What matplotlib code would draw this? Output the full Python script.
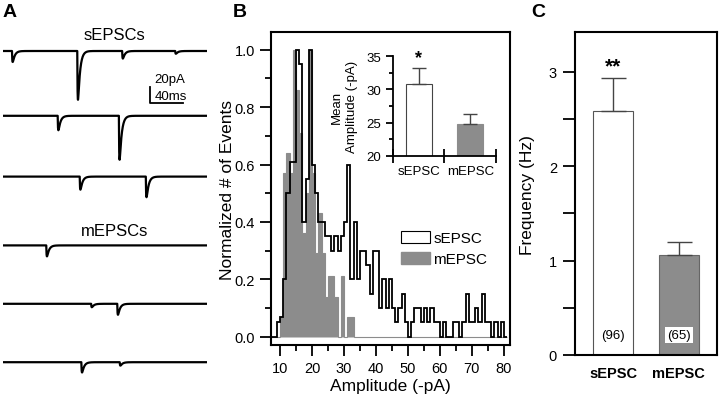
import numpy as np
import matplotlib.pyplot as plt
from matplotlib.patches import Patch

plt.rcParams['font.family'] = ['Liberation Sans', 'DejaVu Sans']

# -------------------------------
# Panel A: example traces (event times in ms, amplitudes in pA)
# -------------------------------
trace_labels = ["sEPSCs", "mEPSCs"]
trace_offsets = [-40, -121, -197, -283, -356, -429]   # baseline of each sweep (pA)
event_times = [
    [11, 91, 146, 211],
    [67, 142],
    [94, 175],
    [53],
    [108, 140],
    [96, 143],
]
event_amps = [
    [16, 71, 11, 4],
    [21, 64],
    [19, 30],
    [16],
    [5, 16],
    [15, 5],
]

# -------------------------------
# Panel B: amplitude histograms (1 pA bins, normalized)
# -------------------------------
bin_edges = np.arange(7, 82, 1)
sepsc_hist = [0, 0, 0.05, 0.07, 0.20, 0.50, 0.61, 0.61, 1.00, 0.95,
              0.40, 0.55, 1.00, 0.60, 0.50, 0.40, 0.40, 0.35, 0.35, 0.30,
              0.35, 0.30, 0.35, 0.40, 0.60, 0.20, 0.40, 0.20, 0.30, 0.30,
              0.25, 0.15, 0.30, 0.30, 0.10, 0.20, 0.10, 0.20, 0.10, 0.05,
              0.10, 0.15, 0.05, 0.00, 0.05, 0.10, 0.10, 0.05, 0.10, 0.05,
              0.10, 0.05, 0.05, 0.00, 0.05, 0.00, 0.00, 0.05, 0.05, 0.00,
              0.05, 0.15, 0.05, 0.05, 0.10, 0.05, 0.15, 0.05, 0.05, 0.00,
              0.05, 0.00, 0.05, 0.00]
mepsc_hist = [0, 0, 0, 0.07, 0.57, 0.64, 0.57, 1.00, 0.86, 0.71,
              0.36, 0.50, 1.00, 0.57, 0.29, 0.43, 0.29, 0.14, 0.21, 0.21,
              0.14, 0.00, 0.21, 0.00, 0.07, 0.07] + [0.0] * 48

# inset: mean amplitude
groups = ["sEPSC", "mEPSC"]
mean_amp = [30.8, 24.8]
mean_amp_err = [2.5, 1.5]

# -------------------------------
# Panel C: frequency
# -------------------------------
freq = [2.59, 1.06]
freq_err = [0.35, 0.14]
n_cells = ["(96)", "(65)"]

gray = "#8c8c8c"

fig = plt.figure(figsize=(7.2, 4.02), dpi=100)

# ---------- A ----------
axA = fig.add_axes([3 / 720, 2 / 402, 204 / 720, 380 / 402])
t = np.arange(0, 250, 0.1)
for off, times, amps in zip(trace_offsets, event_times, event_amps):
    y = np.zeros_like(t)
    for t0, a in zip(times, amps):
        s = np.clip(t - t0, 0, None)
        k = np.exp(-s / 2.5) - np.exp(-s / 0.4)
        y -= a * k / 0.69
    axA.plot(t, y + off, color="black", lw=1.6)
axA.set_xlim(0, 250)
axA.set_ylim(-475, 0)
axA.axis("off")
axA.text(136, -19, trace_labels[0], ha="center", va="center", fontsize=12)
axA.text(137, -265, trace_labels[1], ha="center", va="center", fontsize=12)
# scale bar 20 pA / 40 ms
axA.plot([180, 180, 220], [-85, -105, -105], color="black", lw=1.3)
axA.text(186, -75, "20pA", ha="left", va="center", fontsize=9.5)
axA.text(186, -96, "40ms", ha="left", va="center", fontsize=9.5)

# ---------- B ----------
axB = fig.add_axes([271 / 720, 56 / 402, 239 / 720, 313 / 402])
axB.stairs(sepsc_hist, bin_edges, fill=True, color="white", zorder=1)
axB.stairs(mepsc_hist, bin_edges, fill=True, facecolor=gray, edgecolor=gray,
           lw=0.8, zorder=2)
axB.stairs(sepsc_hist, bin_edges, color="black", lw=1.3, zorder=3)
axB.set_xlim(7.2, 81.9)
axB.set_ylim(-0.029, 1.062)
axB.set_xticks(np.arange(10, 81, 10))
axB.set_xticks(np.arange(15, 80, 10), minor=True)
axB.set_yticks(np.arange(0, 1.01, 0.2))
axB.set_yticks(np.arange(0.1, 1.0, 0.2), minor=True)
axB.set_yticklabels([f"{v:.1f}" for v in np.arange(0, 1.01, 0.2)])
axB.tick_params(which="major", length=8, width=1.3, labelsize=10.5, direction="out")
axB.tick_params(which="minor", length=4.5, width=1.3, direction="out")
for sp in axB.spines.values():
    sp.set_linewidth(1.5)
axB.set_xlabel("Amplitude (-pA)", fontsize=12.5, labelpad=2)
axB.set_ylabel("Normalized # of Events", fontsize=12.5, labelpad=0)
handles = [Patch(facecolor="white", edgecolor="black", lw=0.8),
           Patch(facecolor=gray, edgecolor=gray)]
axB.legend(handles, ["sEPSC", "mEPSC"], loc="upper left",
           bbox_to_anchor=(0.52, 0.385), frameon=False, fontsize=11,
           handlelength=1.9, handleheight=0.85, labelspacing=0.45,
           handletextpad=0.2, borderaxespad=0)

# inset
axI = fig.add_axes([393 / 720, 245.3 / 402, 103 / 720, 99.4 / 402])
xpos = np.arange(len(groups))
axI.bar(xpos, mean_amp, width=0.5, color=["white", gray],
        edgecolor=["#444444", gray], lw=0.8, bottom=0)
axI.errorbar(xpos, mean_amp, yerr=[[0, 0], mean_amp_err], fmt="none",
             ecolor="#444444", elinewidth=1, capsize=4.8, capthick=1)
axI.text(0, mean_amp[0] + mean_amp_err[0] + 0.2, "*", ha="center",
         va="bottom", fontsize=13, fontweight="bold")
axI.set_xlim(-0.5, 1.5)
axI.set_ylim(20, 35)
axI.spines["top"].set_visible(False)
axI.spines["right"].set_visible(False)
axI.spines["left"].set_linewidth(1.3)
axI.spines["bottom"].set_linewidth(1.3)
axI.set_yticks([20, 25, 30, 35])
axI.set_yticks([22.5, 27.5, 32.5], minor=True)
axI.tick_params(axis="y", which="major", length=5, width=1.3, labelsize=9.5)
axI.tick_params(axis="y", which="minor", length=3, width=1.3)
axI.set_xticks([-0.5, 0.5, 1.5])
axI.set_xticklabels([])
axI.tick_params(axis="x", direction="inout", length=10, width=1.3)
for x, g in zip(xpos, groups):
    axI.text(x, 18.6, g, ha="center", va="top", fontsize=9.5)
axI.set_ylabel("Mean\nAmplitude (-pA)", fontsize=9.5, labelpad=6, linespacing=1.4)

# ---------- C ----------
axC = fig.add_axes([575 / 720, 46 / 402, 141.7 / 720, 322.7 / 402])
axC.bar(xpos, freq, width=0.61, color=["white", gray],
        edgecolor=["#555555", "#666666"], lw=0.8)
axC.errorbar(xpos, freq, yerr=[[0, 0], freq_err], fmt="none",
             ecolor="#444444", elinewidth=1, capsize=9, capthick=1)
axC.text(0, freq[0] + freq_err[0] + 0.02, "**", ha="center", va="bottom",
         fontsize=15, fontweight="bold")
for x, lab in zip(xpos, n_cells):
    axC.text(x, 0.21, lab, ha="center", va="center", fontsize=9.5,
             bbox=dict(facecolor="white", edgecolor="none", pad=1.5) if x == 1 else None)
axC.set_xlim(-0.585, 1.579)
axC.set_ylim(0, 3.42)
axC.set_xticks([])
axC.set_yticks([0, 1, 2, 3])
axC.set_yticks([0.5, 1.5, 2.5], minor=True)
axC.tick_params(axis="y", which="both", length=9, width=1.3, labelsize=10.5, pad=4)
for sp in axC.spines.values():
    sp.set_linewidth(1.5)
axC.set_ylabel("Frequency (Hz)", fontsize=12.5, labelpad=10)
for x, g in zip(xpos, groups):
    axC.text(x, -0.12, g, ha="center", va="top", fontsize=10.5, fontweight="bold")

# panel letters
fig.text(3 / 720, 1 - 4 / 402, "A", ha="left", va="top", fontsize=14, fontweight="bold")
fig.text(233 / 720, 1 - 4 / 402, "B", ha="left", va="top", fontsize=14, fontweight="bold")
fig.text(531 / 720, 1 - 4 / 402, "C", ha="left", va="top", fontsize=14, fontweight="bold")

fig.savefig("out.png", dpi=100)
